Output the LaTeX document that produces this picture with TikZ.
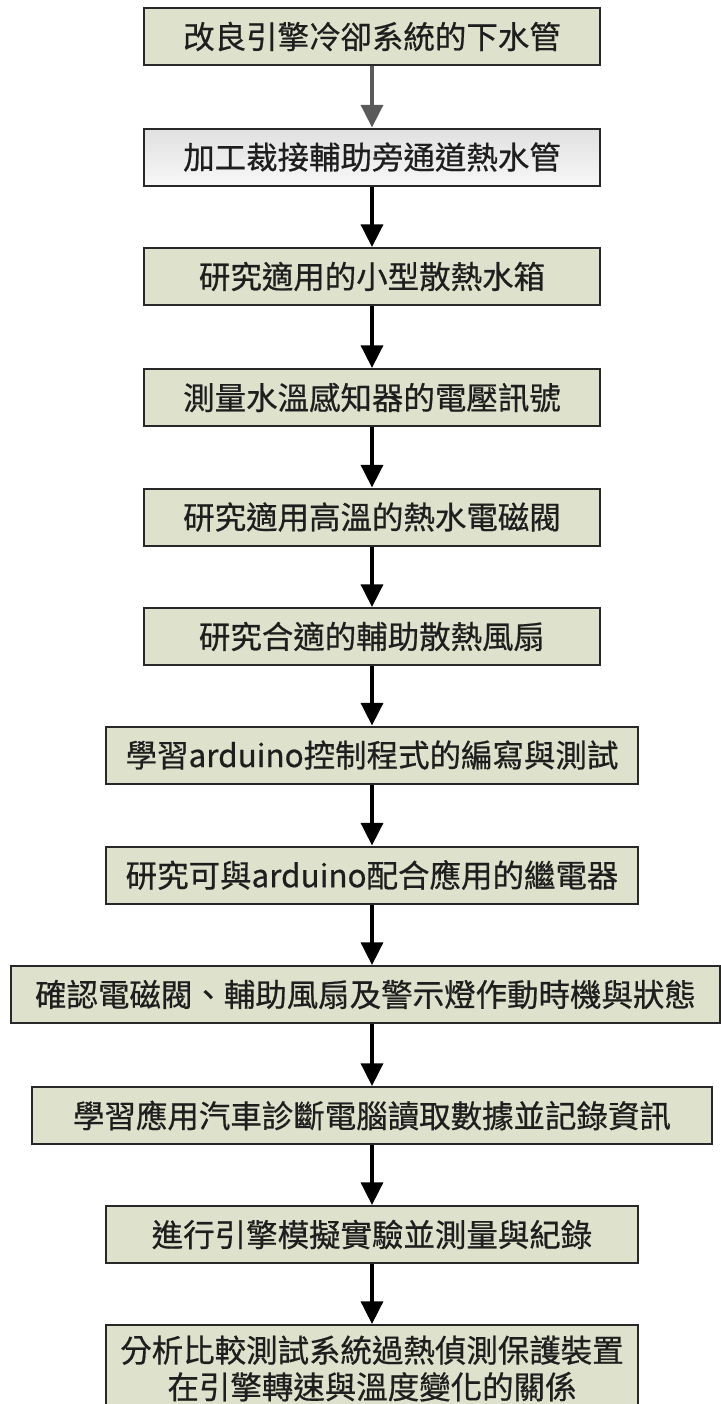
\documentclass[tikz,border=0pt]{standalone}
\usepackage{fontspec}
\newfontfamily\cjk[FakeBold=0.6]{Noto Sans CJK TC}
\usetikzlibrary{arrows.meta}
\definecolor{boxfill}{RGB}{222,226,204}
\definecolor{boxline}{RGB}{40,40,40}
\definecolor{grayarrow}{RGB}{90,90,90}
\definecolor{txt}{RGB}{30,30,30}
\begin{document}
\begin{tikzpicture}[x=0.75pt,y=-0.75pt,
  box/.style={draw=boxline, line width=1.5pt, fill=boxfill, inner sep=0pt,
    minimum height=42.75pt, text=txt, align=center,
    font=\cjk\fontsize{23.6}{27.5}\selectfont},
  narrow/.style={minimum width=342pt},
  wide/.style={minimum width=399pt},
  arr/.style={line width=2.6pt, -{Triangle[width=16.5pt,length=17pt]}},
]
\useasboundingbox (0,0) rectangle (721,1404);
\clip (0,0) rectangle (721,1404);
\fill[white] (0,0) rectangle (721,1404);
\node[box, narrow] (b1) at (372,36.5) {改良引擎冷卻系統的下水管};
\node[box, narrow, top color=white!88!black, bottom color=white!97!black] (b2) at (372,157) {加工裁接輔助旁通道熱水管};
\node[box, narrow] (b3) at (372,276.5) {研究適用的小型散熱水箱};
\node[box, narrow] (b4) at (372,397.5) {測量水溫感知器的電壓訊號};
\node[box, narrow] (b5) at (372,517) {研究適用高溫的熱水電磁閥};
\node[box, narrow] (b6) at (372,636.5) {研究合適的輔助散熱風扇};
\node[box, wide] (b7) at (372,755) {學習arduino控制程式的編寫與測試};
\node[box, wide] (b8) at (372,875) {研究可與arduino配合應用的繼電器};
\node[box, minimum width=531.75pt] (b9) at (365.5,994.5) {確認電磁閥、輔助風扇及警示燈作動時機與狀態};
\node[box, minimum width=510pt] (b10) at (372,1115.5) {學習應用汽車診斷電腦讀取數據並記錄資訊};
\node[box, wide] (b11) at (372,1234.5) {進行引擎模擬實驗並測量與紀錄};
\node[box, wide, minimum height=65.25pt] (b12) at (372,1368.5) {分析比較測試系統過熱偵測保護裝置\\在引擎轉速與溫度變化的關係};
\draw[arr, grayarrow] (b1.south) -- (b2.north);
\foreach \a/\b in {b2/b3,b3/b4,b4/b5,b5/b6,b6/b7,b7/b8,b8/b9,b9/b10,b10/b11,b11/b12}
  \draw[arr, black] (\a.south -| b1.south) -- (\b.north -| b1.south);
\end{tikzpicture}
\end{document}
